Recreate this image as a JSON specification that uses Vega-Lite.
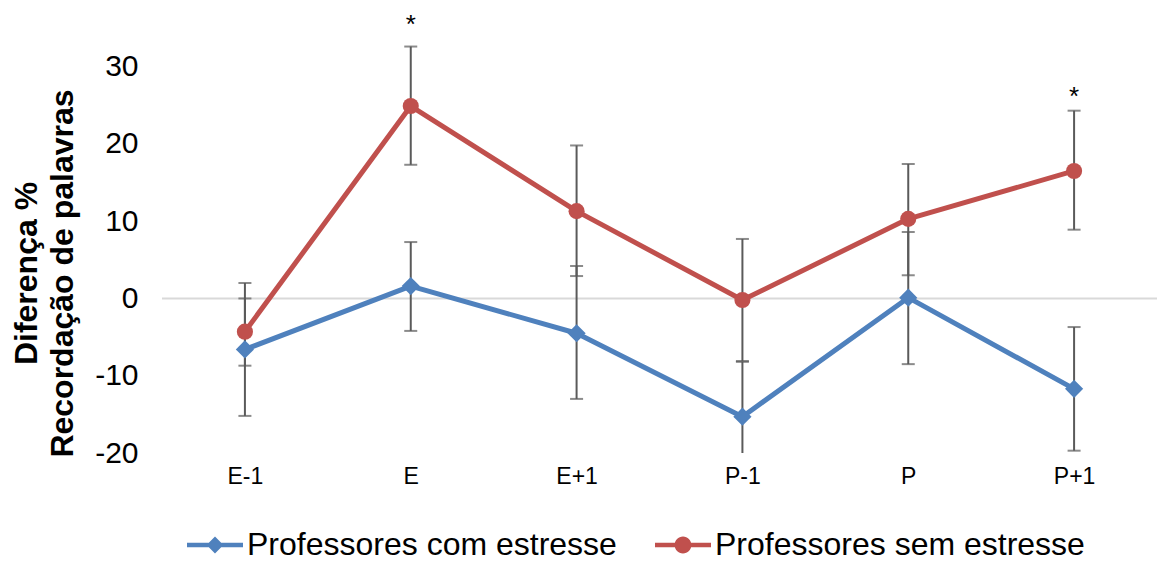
{
  "$schema": "https://vega.github.io/schema/vega-lite/v6.json",
  "width": 995,
  "height": 425,
  "autosize": "none",
  "padding": {"left": 162, "top": 28, "right": 5, "bottom": 108},
  "background": "white",
  "config": {
    "view": {"stroke": null},
    "font": "Liberation Sans",
    "axis": {"grid": false, "ticks": false, "domain": false, "labelColor": "#000000", "titleColor": "#000000"}
  },
  "datasets": {
    "recall": [
      {"phase": "E-1", "group": "Professores com estresse", "mean": -6.6, "lo": -15.2, "hi": 2.0},
      {"phase": "E", "group": "Professores com estresse", "mean": 1.6, "lo": -4.2, "hi": 7.3},
      {"phase": "E+1", "group": "Professores com estresse", "mean": -4.5, "lo": -13.0, "hi": 4.2},
      {"phase": "P-1", "group": "Professores com estresse", "mean": -15.3, "lo": -22.4, "hi": -8.2},
      {"phase": "P", "group": "Professores com estresse", "mean": 0.1, "lo": -8.5, "hi": 8.6},
      {"phase": "P+1", "group": "Professores com estresse", "mean": -11.7, "lo": -19.7, "hi": -3.7},
      {"phase": "E-1", "group": "Professores sem estresse", "mean": -4.3, "lo": -8.7, "hi": 0.0},
      {"phase": "E", "group": "Professores sem estresse", "mean": 24.9, "lo": 17.3, "hi": 32.6},
      {"phase": "E+1", "group": "Professores sem estresse", "mean": 11.3, "lo": 2.9, "hi": 19.8},
      {"phase": "P-1", "group": "Professores sem estresse", "mean": -0.2, "lo": -8.1, "hi": 7.7},
      {"phase": "P", "group": "Professores sem estresse", "mean": 10.3, "lo": 3.0, "hi": 17.4},
      {"phase": "P+1", "group": "Professores sem estresse", "mean": 16.5, "lo": 8.9, "hi": 24.3}
    ],
    "significance": [
      {"phase": "E", "y": 34.3, "mark": "*"},
      {"phase": "P+1", "y": 25.1, "mark": "*"}
    ],
    "baseline": [
      {"y": 0}
    ]
  },
  "layer": [
    {
      "data": {"name": "baseline"},
      "mark": {"type": "rule", "color": "#d9d9d9", "strokeWidth": 2},
      "encoding": {"y": {"field": "y", "type": "quantitative"}}
    },
    {
      "data": {"name": "recall"},
      "mark": {"type": "rule", "color": "#5a5a5a", "strokeWidth": 2, "clip": true},
      "encoding": {
        "x": {"field": "phase", "type": "nominal", "sort": ["E-1", "E", "E+1", "P-1", "P", "P+1"]},
        "y": {"field": "lo", "type": "quantitative"},
        "y2": {"field": "hi"}
      }
    },
    {
      "data": {"name": "recall"},
      "mark": {"type": "tick", "color": "#5a5a5a", "thickness": 2, "size": 13, "clip": true},
      "encoding": {
        "x": {"field": "phase", "type": "nominal", "sort": ["E-1", "E", "E+1", "P-1", "P", "P+1"]},
        "y": {"field": "lo", "type": "quantitative"}
      }
    },
    {
      "data": {"name": "recall"},
      "mark": {"type": "tick", "color": "#5a5a5a", "thickness": 2, "size": 13, "clip": true},
      "encoding": {
        "x": {"field": "phase", "type": "nominal", "sort": ["E-1", "E", "E+1", "P-1", "P", "P+1"]},
        "y": {"field": "hi", "type": "quantitative"}
      }
    },
    {
      "data": {"name": "recall"},
      "mark": {"type": "line", "strokeWidth": 5, "strokeJoin": "round", "strokeCap": "round"},
      "encoding": {
        "x": {
          "field": "phase",
          "type": "nominal",
          "sort": ["E-1", "E", "E+1", "P-1", "P", "P+1"],
          "scale": {"type": "point", "padding": 0.5},
          "axis": {"title": null, "labelAngle": 0, "labelAlign": "center", "labelFontSize": 23, "labelPadding": 23}
        },
        "y": {
          "field": "mean",
          "type": "quantitative",
          "scale": {"domain": [-20, 35], "nice": false, "zero": false},
          "axis": {
            "values": [-20, -10, 0, 10, 20, 30],
            "labelExpr": "'' + datum.value",
            "labelFontSize": 30,
            "labelPadding": 24,
            "title": ["Diferença %", "Recordação de palavras"],
            "titleFontSize": 32,
            "titleFontWeight": "bold",
            "titleLineHeight": 36,
            "titleAngle": -90,
            "titleAlign": "center",
            "titleBaseline": "middle",
            "titleX": -136,
            "titleY": 245
          }
        },
        "color": {
          "field": "group",
          "type": "nominal",
          "scale": {"domain": ["Professores com estresse", "Professores sem estresse"], "range": ["#4f81bd", "#c0504d"]},
          "legend": {
            "title": null,
            "orient": "none",
            "direction": "horizontal",
            "legendX": 25,
            "legendY": 489,
            "padding": 0,
            "symbolSize": 3136,
            "labelFontSize": 32,
            "labelColor": "#000000",
            "labelOffset": 4,
            "labelLimit": 600,
            "columnPadding": 38,
            "encode": {
              "symbols": {
                "update": {
                  "shape": {"signal": "datum.value === 'Professores com estresse' ? 'M-1,-0.08H1V0.08H-1Z M0,-0.3L0.3,0L0,0.3L-0.3,0Z' : 'M-1,-0.08H1V0.08H-1Z M-0.3,0A0.3,0.3 0 1,1 0.3,0A0.3,0.3 0 1,1 -0.3,0Z'"},
                  "fill": {"signal": "datum.value === 'Professores com estresse' ? '#4f81bd' : '#c0504d'"},
                  "fillOpacity": {"value": 1},
                  "strokeWidth": {"value": 0},
                  "opacity": {"value": 1}
                }
              }
            }
          }
        }
      }
    },
    {
      "data": {"name": "recall"},
      "transform": [{"filter": "datum.group === 'Professores com estresse'"}],
      "mark": {"type": "point", "shape": "diamond", "size": 330, "filled": true, "opacity": 1},
      "encoding": {
        "x": {"field": "phase", "type": "nominal", "sort": ["E-1", "E", "E+1", "P-1", "P", "P+1"]},
        "y": {"field": "mean", "type": "quantitative"},
        "color": {"field": "group", "type": "nominal"}
      }
    },
    {
      "data": {"name": "recall"},
      "transform": [{"filter": "datum.group === 'Professores sem estresse'"}],
      "mark": {"type": "point", "shape": "circle", "size": 260, "filled": true, "opacity": 1},
      "encoding": {
        "x": {"field": "phase", "type": "nominal", "sort": ["E-1", "E", "E+1", "P-1", "P", "P+1"]},
        "y": {"field": "mean", "type": "quantitative"},
        "color": {"field": "group", "type": "nominal"}
      }
    },
    {
      "data": {"name": "significance"},
      "mark": {"type": "text", "fontSize": 26, "color": "#000000", "baseline": "alphabetic", "clip": false},
      "encoding": {
        "x": {"field": "phase", "type": "nominal", "sort": ["E-1", "E", "E+1", "P-1", "P", "P+1"]},
        "y": {"field": "y", "type": "quantitative"},
        "text": {"field": "mark"}
      }
    }
  ]
}
